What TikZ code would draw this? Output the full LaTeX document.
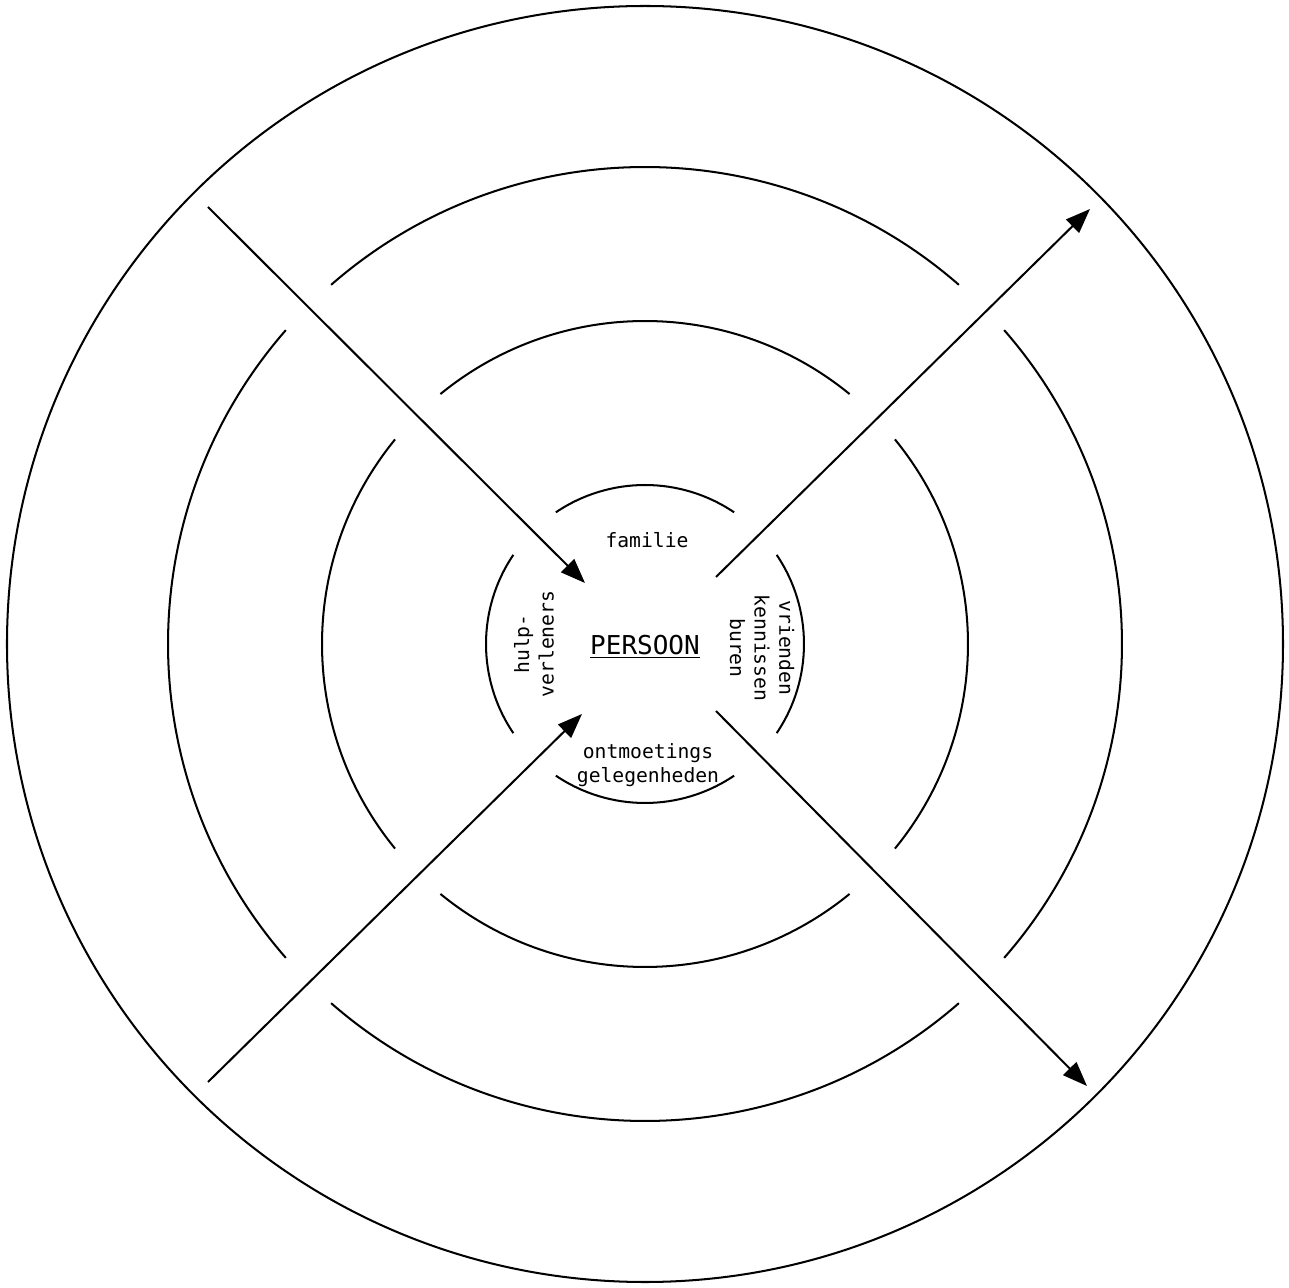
\documentclass[tikz,border=0pt]{standalone}
\usepackage{fontspec}
\setmonofont{DejaVu Sans Mono}
\usetikzlibrary{arrows.meta}
\begin{document}
\begin{tikzpicture}[x=0.2mm,y=0.2mm,
  ring/.style={line width=1.15pt},
  arr/.style={line width=1.15pt,-{Triangle[length=14pt,width=10.5pt]}},
  lbl/.style={font=\ttfamily\fontsize{11.2}{14}\selectfont,align=center,inner sep=0pt}]
\useasboundingbox (-645,-644) rectangle (644,644);
\draw[ring] (0,0) circle (638);
% rings: radius, gap half angle
\foreach \r/\g in {477/3.85, 323/5.7, 159/10.9}{
  \foreach \a in {0,90,180,270}{
    \draw[ring] ({\a-45+\g}:\r) arc ({\a-45+\g}:{\a+45-\g}:\r);
  }
}
\node[lbl,font=\ttfamily\fontsize{14.8}{18}\selectfont] (persoon) at (0,-3) {\underline{PERSOON}};
\node[lbl] (familie) at (2,104) {familie};
\node[lbl,rotate=90] (hulp) at (-111,0) {hulp-\\verleners};
\node[lbl,rotate=-90] (vrienden) at (117,-4) {vrienden\\kennissen\\buren};
\node[lbl] (ontm) at (3,-121) {ontmoetings\\gelegenheden};
\coordinate (nws) at (-437,437);
\coordinate (nwe) at (-60,61);
\coordinate (nes) at (71,67);
\coordinate (nee) at (445,435);
\coordinate (ses) at (71,-67);
\coordinate (see) at (442,-442);
\coordinate (sws) at (-437,-438);
\coordinate (swe) at (-63,-70);
\draw[arr] (nws) -- (nwe);
\draw[arr] (nes) -- (nee);
\draw[arr] (ses) -- (see);
\draw[arr] (sws) -- (swe);
\end{tikzpicture}
\end{document}
